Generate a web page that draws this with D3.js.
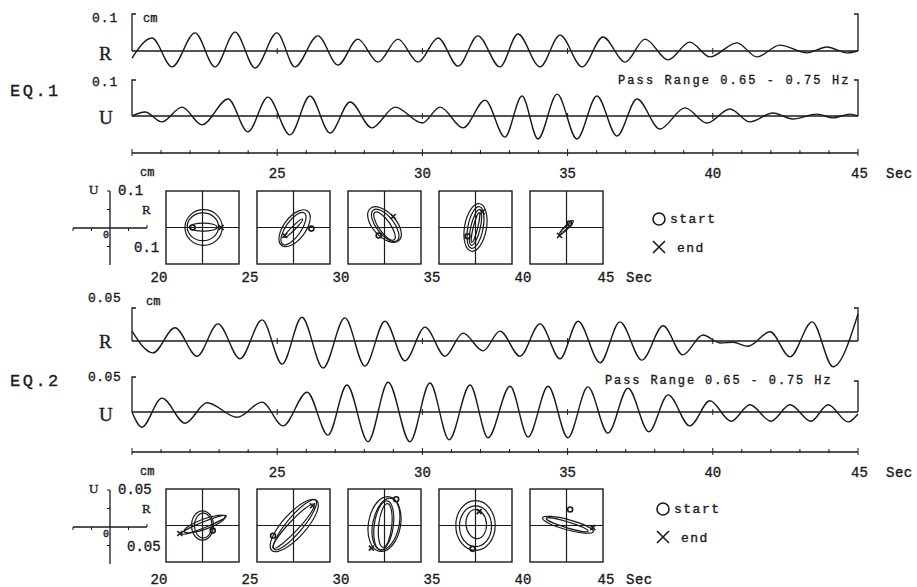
<!DOCTYPE html>
<html>
<head>
<meta charset="utf-8">
<script src="https://cdn.jsdelivr.net/npm/d3@7/dist/d3.min.js"></script>
<style>
body { margin: 0; background: #fff; }
text { font-family: "Liberation Mono", "DejaVu Sans Mono", monospace; fill: #1a1a1a; stroke: #1a1a1a; stroke-width: 0.35; }
.serif { font-family: "Liberation Serif", "DejaVu Serif", serif; }
</style>
</head>
<body>
<svg id="chart"></svg>
<script>
// band-passed traces: time (s) of each peak / trough and its value (cm)
var eq1RTime = [20.00, 20.69, 21.38, 22.17, 22.86, 23.55, 24.24, 24.99, 25.61, 26.40, 27.09, 27.78, 28.47, 29.16, 29.85, 30.54, 31.23, 31.91, 32.67, 33.29, 34.05, 34.74, 35.50, 36.22, 36.98, 37.67, 38.46, 39.21, 39.90, 40.83, 41.52, 42.31, 43.24, 43.93, 44.62, 45.00];
var eq1RVal = [-0.019, 0.035, -0.043, 0.049, -0.043, 0.051, -0.046, 0.049, -0.043, 0.041, -0.038, 0.032, -0.030, 0.032, -0.030, 0.035, -0.041, 0.041, -0.043, 0.046, -0.043, 0.043, -0.043, 0.038, -0.030, 0.032, -0.024, 0.024, -0.016, 0.022, -0.016, 0.016, -0.005, 0.011, -0.005, 0.000];

var eq1UTime = [20.00, 20.45, 21.03, 21.72, 22.41, 23.31, 23.99, 24.68, 25.44, 26.13, 26.82, 27.51, 28.26, 29.06, 29.99, 30.61, 31.40, 32.16, 32.84, 33.43, 33.98, 34.64, 35.32, 36.01, 36.70, 37.39, 38.18, 39.04, 39.80, 40.59, 41.28, 42.07, 42.76, 43.59, 44.14, 44.72, 45.00];
var eq1UVal = [0.000, 0.011, -0.016, 0.024, -0.024, 0.046, -0.043, 0.051, -0.051, 0.054, -0.046, 0.038, -0.032, 0.024, -0.019, 0.024, -0.032, 0.043, -0.057, 0.054, -0.062, 0.059, -0.062, 0.054, -0.054, 0.046, -0.035, 0.022, -0.019, 0.019, -0.016, 0.008, -0.008, 0.005, -0.005, 0.005, 0.000];

var eq2RTime = [20.00, 20.72, 21.48, 22.24, 22.96, 23.72, 24.48, 25.17, 25.85, 26.58, 27.33, 28.02, 28.71, 29.40, 30.09, 30.78, 31.40, 32.09, 32.67, 33.36, 34.05, 34.74, 35.36, 36.12, 36.80, 37.56, 38.29, 38.97, 39.66, 40.25, 40.70, 41.21, 41.97, 42.66, 43.42, 44.14, 45.00];
var eq2RVal = [0.015, -0.018, 0.020, -0.023, 0.026, -0.027, 0.032, -0.035, 0.036, -0.041, 0.035, -0.038, 0.030, -0.030, 0.021, -0.023, 0.012, -0.015, 0.015, -0.023, 0.026, -0.027, 0.030, -0.033, 0.029, -0.029, 0.023, -0.021, 0.009, -0.003, -0.002, -0.008, 0.014, -0.024, 0.029, -0.039, 0.041];

var eq2UTime = [20.00, 20.34, 21.03, 21.83, 22.58, 23.62, 24.48, 25.20, 26.03, 26.75, 27.40, 28.13, 28.82, 29.57, 30.26, 30.92, 31.64, 32.26, 33.02, 33.64, 34.33, 35.01, 35.70, 36.39, 37.08, 37.80, 38.46, 39.21, 39.90, 40.63, 41.28, 42.00, 42.66, 43.38, 43.97, 44.66, 45.00];
var eq2UVal = [0.000, -0.023, 0.021, -0.017, 0.014, -0.008, 0.015, -0.021, 0.030, -0.035, 0.041, -0.045, 0.045, -0.045, 0.044, -0.042, 0.041, -0.039, 0.039, -0.038, 0.039, -0.039, 0.038, -0.032, 0.036, -0.030, 0.026, -0.021, 0.017, -0.014, 0.011, -0.014, 0.011, -0.014, 0.011, -0.015, -0.003];

var timeLabels = [25, 30, 35, 40];
var orbitWindows = [20, 25, 30, 35, 40];

// particle orbits, one list per 5 s window: [semi-axis, semi-axis, tilt deg, R centre, U centre] in cm
var eq1Loops = [
  [[0.051, 0.049, 0, 0.003, 0], [0.043, 0.038, 0, 0.001, 0.002], [0.038, 0.011, 0, 0.002, 0.001]],
  [[0.059, 0.030, 53, 0.003, -0.002], [0.052, 0.021, 55, 0, -0.003], [0.035, 0.005, 45, 0, -0.002]],
  [[0.059, 0.032, -48, 0, 0.008], [0.053, 0.024, -52, 0.002, 0.006], [0.046, 0.016, -55, 0, 0.004]],
  [[0.066, 0.030, 80, 0, 0], [0.058, 0.021, 79, 0, 0], [0.050, 0.013, 77, 0, 0], [0.042, 0.006, 76, 0, 0]],
  [[0.026, 0.005, 45, 0, 0], [0.020, 0.003, 40, 0, 0]]
];
var eq1Start = [[-0.027, 0], [0.049, -0.003], [-0.016, -0.022], [-0.022, -0.024], [0.008, 0.011]];
var eq1End = [[0.051, 0], [-0.024, -0.022], [0.024, 0.030], [0.019, 0.043], [-0.019, -0.022]];

var eq2Loops = [
  [[0.015, 0.020, 0, 0, 0], [0.012, 0.017, 0, 0.001, 0], [0.033, 0.004, 22, 0.002, 0.001], [0.030, 0.007, 20, 0.003, 0.002]],
  [[0.046, 0.016, 48, 0.001, 0], [0.044, 0.011, 50, 0.002, 0.001], [0.041, 0.007, 47, 0, -0.001]],
  [[0.038, 0.022, 80, 0, 0.002], [0.036, 0.018, 78, 0.002, 0.002], [0.034, 0.013, 82, -0.001, 0], [0.030, 0.009, 84, 0.001, 0]],
  [[0.027, 0.034, 0, 0, 0], [0.022, 0.028, 0, 0, -0.001], [0.014, 0.020, 5, 0.001, 0.002]],
  [[0.036, 0.007, -15, 0.002, 0.001], [0.030, 0.004, -17, 0.001, 0.001]]
];
var eq2Start = [[0.014, -0.007], [-0.028, -0.014], [0.016, 0.036], [-0.004, -0.032], [0.005, 0.022]];
var eq2End = [[-0.031, -0.011], [0.026, 0.027], [-0.018, -0.031], [0.005, 0.019], [0.036, -0.003]];

var w = 917;
var h = 587;
var ink = "#1a1a1a";

var svg = d3.select("#chart")
            .attr("width", w)
            .attr("height", h);

var x = d3.scaleLinear().domain([20, 45]).range([132, 858]);
var orbitScale = d3.scaleLinear().domain([20, 45]).range([159, 614]);
var boxSize = 73;

function zip(ts, vs) {
  return ts.map(function(t, i){ return [t, vs[i]]; });
}

function drawTrace(base, pxPerCm, ts, vs) {
  var y = d3.scaleLinear().domain([0, 1]).range([base, base - pxPerCm]);
  // zero line
  svg.append("line")
     .attr("x1", x(20)).attr("x2", x(45))
     .attr("y1", base).attr("y2", base)
     .attr("stroke", ink).attr("stroke-width", 1.3);
  // little 5 s marks on the zero line
  svg.selectAll(null)
     .data(timeLabels)
     .enter()
     .append("line")
     .attr("x1", function(d){ return x(d); })
     .attr("x2", function(d){ return x(d); })
     .attr("y1", base - 3).attr("y2", base + 3)
     .attr("stroke", ink).attr("stroke-width", 1);
  var line = d3.line()
               .x(function(d){ return x(d[0]); })
               .y(function(d){ return y(d[1]); })
               .curve(d3.curveMonotoneX);
  svg.append("path")
     .attr("d", line(zip(ts, vs)))
     .attr("fill", "none")
     .attr("stroke", ink)
     .attr("stroke-width", 1.4);
}

// "[" scale bracket at the left and "]" at the right
function drawBrackets(base, leftTop, rightTop) {
  svg.append("path")
     .attr("d", "M" + (x(20) + 4) + "," + leftTop + "H" + x(20) + "V" + base)
     .attr("fill", "none").attr("stroke", ink).attr("stroke-width", 1.3);
  svg.append("path")
     .attr("d", "M" + (x(45) - 4) + "," + rightTop + "H" + x(45) + "V" + base)
     .attr("fill", "none").attr("stroke", ink).attr("stroke-width", 1.3);
}

function drawTimeAxis(ay, labelY) {
  svg.append("line")
     .attr("x1", x(20)).attr("x2", x(45))
     .attr("y1", ay).attr("y2", ay)
     .attr("stroke", ink).attr("stroke-width", 1.3);
  svg.selectAll(null)
     .data(d3.range(20, 46))
     .enter()
     .append("line")
     .attr("x1", function(d){ return x(d); })
     .attr("x2", function(d){ return x(d); })
     .attr("y1", function(d){ return d % 5 == 0 ? ay - 4 : ay - 3; })
     .attr("y2", function(d){ return d % 5 == 0 ? ay + 3 : ay + 1; })
     .attr("stroke", ink).attr("stroke-width", 1);
  svg.selectAll(null)
     .data(timeLabels)
     .enter()
     .append("text")
     .attr("x", function(d){ return x(d); })
     .attr("y", labelY)
     .attr("text-anchor", "middle")
     .attr("font-size", 14)
     .text(function(d){ return d; });
  svg.append("text").attr("x", x(45) - 7).attr("y", labelY)
     .attr("font-size", 14).text("45");
  svg.append("text").attr("x", x(45) + 28).attr("y", labelY)
     .attr("font-size", 14).attr("letter-spacing", 0.5).text("Sec");
  svg.append("text").attr("x", 140).attr("y", labelY - 2)
     .attr("font-size", 12).text("cm");
}

function drawOrbits(top, lim, loops, starts, ends, labelY) {
  orbitWindows.forEach(function(t0, i){
    var left = orbitScale(t0) + 7;
    var sx = d3.scaleLinear().domain([-lim, lim]).range([left, left + boxSize]);
    var sy = d3.scaleLinear().domain([-lim, lim]).range([top + boxSize, top]);
    var g = svg.append("g");
    g.append("rect")
     .attr("x", sx(-lim)).attr("y", sy(lim))
     .attr("width", boxSize).attr("height", boxSize)
     .attr("fill", "none").attr("stroke", ink).attr("stroke-width", 1.4);
    g.append("line")
     .attr("x1", sx(0)).attr("x2", sx(0)).attr("y1", sy(lim)).attr("y2", sy(-lim))
     .attr("stroke", ink).attr("stroke-width", 1.2);
    g.append("line")
     .attr("x1", sx(-lim)).attr("x2", sx(lim)).attr("y1", sy(0)).attr("y2", sy(0))
     .attr("stroke", ink).attr("stroke-width", 1.2);
    g.selectAll("ellipse")
     .data(loops[i])
     .enter()
     .append("ellipse")
     .attr("cx", function(d){ return sx(d[3]); })
     .attr("cy", function(d){ return sy(d[4]); })
     .attr("rx", function(d){ return sx(d[0]) - sx(0); })
     .attr("ry", function(d){ return sx(d[1]) - sx(0); })
     .attr("transform", function(d){ return "rotate(" + (-d[2]) + "," + sx(d[3]) + "," + sy(d[4]) + ")"; })
     .attr("fill", "none").attr("stroke", ink).attr("stroke-width", 1.2);
    var s = starts[i];
    g.append("circle")
     .attr("cx", sx(s[0])).attr("cy", sy(s[1])).attr("r", 2.5)
     .attr("fill", "none").attr("stroke", ink).attr("stroke-width", 1.6);
    var e = ends[i];
    g.append("path")
     .attr("d", "M" + (sx(e[0]) - 2.5) + "," + (sy(e[1]) - 2.5) + "l5,5m0,-5l-5,5")
     .attr("stroke", ink).attr("stroke-width", 1.6);
  });
  svg.selectAll(null)
     .data(orbitWindows)
     .enter()
     .append("text")
     .attr("x", function(d){ return orbitScale(d); })
     .attr("y", labelY)
     .attr("text-anchor", "middle")
     .attr("font-size", 14)
     .text(function(d){ return d; });
  svg.append("text").attr("x", orbitScale(45) - 8).attr("y", labelY)
     .attr("text-anchor", "middle").attr("font-size", 14).text("45");
  svg.append("text").attr("x", orbitScale(45) + 12).attr("y", labelY)
     .attr("font-size", 14).attr("letter-spacing", 0.5).text("Sec");
}

// small R-U reference axes left of the orbit boxes
function drawOrbitKey(cy, lim, label) {
  var kx = d3.scaleLinear().domain([-lim, lim]).range([73, 147]);
  var ky = d3.scaleLinear().domain([-lim, lim]).range([cy + 37, cy - 37]);
  svg.append("line").attr("x1", kx(0)).attr("x2", kx(0))
     .attr("y1", ky(lim)).attr("y2", ky(-lim))
     .attr("stroke", ink).attr("stroke-width", 1.3);
  svg.append("line").attr("x1", kx(-lim)).attr("x2", kx(lim))
     .attr("y1", ky(0)).attr("y2", ky(0))
     .attr("stroke", ink).attr("stroke-width", 1.3);
  [-lim, -lim / 2, lim / 2].forEach(function(v){
    svg.append("line").attr("x1", kx(v)).attr("x2", kx(v))
       .attr("y1", ky(0)).attr("y2", ky(0) + 3)
       .attr("stroke", ink).attr("stroke-width", 1);
  });
  svg.append("line").attr("x1", kx(lim)).attr("x2", kx(lim))
     .attr("y1", ky(0)).attr("y2", ky(0) - 3)
     .attr("stroke", ink).attr("stroke-width", 1);
  [lim, lim / 2, -lim / 2].forEach(function(v){
    svg.append("line").attr("x1", kx(0) - 3).attr("x2", kx(0))
       .attr("y1", ky(v)).attr("y2", ky(v))
       .attr("stroke", ink).attr("stroke-width", 1);
  });
  svg.append("text").attr("class", "serif").attr("x", 89).attr("y", ky(lim) + 3).attr("font-size", 13).text("U");
  svg.append("text").attr("x", 118).attr("y", ky(lim) + 4).attr("font-size", 14).text(label);
  svg.append("text").attr("class", "serif").attr("x", 142).attr("y", ky(lim / 2) + 4)
     .attr("font-size", 13).text("R");
  svg.append("text").attr("x", 103).attr("y", ky(0) + 10).attr("font-size", 10).text("0");
  svg.append("text").attr("x", label.length > 3 ? 127 : 134).attr("y", ky(-lim / 2) + 5)
     .attr("font-size", 14).text(label);
}

function drawLegend(cx, cy) {
  svg.append("circle").attr("cx", cx).attr("cy", cy).attr("r", 6)
     .attr("fill", "none").attr("stroke", ink).attr("stroke-width", 1.6);
  svg.append("text").attr("x", cx + 11).attr("y", cy + 4)
     .attr("font-size", 13).attr("letter-spacing", 1.5).text("start");
  svg.append("path")
     .attr("d", "M" + (cx - 6) + "," + (cy + 22) + "l12,12m0,-12l-12,12")
     .attr("stroke", ink).attr("stroke-width", 1.6);
  svg.append("text").attr("x", cx + 18).attr("y", cy + 33)
     .attr("font-size", 13).attr("letter-spacing", 1.5).text("end");
}

function label(tx, ty, size, txt, cls, spacing) {
  svg.append("text").attr("x", tx).attr("y", ty)
     .attr("font-size", size)
     .attr("class", cls || null)
     .attr("letter-spacing", spacing || 0)
     .text(txt);
}

// ---- EQ.1 ----
drawTrace(51, 370, eq1RTime, eq1RVal);
drawTrace(116, 370, eq1UTime, eq1UVal);
drawBrackets(51, 14, 14);
drawBrackets(116, 80, 80);
label(10, 96, 17, "EQ.1", null, 2.5);
label(92, 22, 13, "0.1", null, 1);
label(143, 22, 12, "cm");
label(99, 60, 19, "R", "serif");
label(92, 86, 13, "0.1", null, 1);
label(99, 124, 19, "U", "serif");
label(618, 84, 12, "Pass Range 0.65 - 0.75 Hz", null, 2.1);
drawTimeAxis(153, 178);
drawOrbitKey(228, 0.1, "0.1");
drawOrbits(191, 0.1, eq1Loops, eq1Start, eq1End, 282);
drawLegend(659, 219);

// ---- EQ.2 ----
drawTrace(341, 660, eq2RTime, eq2RVal);
drawTrace(412, 660, eq2UTime, eq2UVal);
drawBrackets(341, 308, 308);
drawBrackets(412, 377, 381);
label(10, 386, 17, "EQ.2", null, 2.5);
label(88, 302, 13, "0.05", null, 0.5);
label(146, 305, 12, "cm");
label(99, 348, 19, "R", "serif");
label(88, 381, 13, "0.05", null, 0.5);
label(99, 421, 19, "U", "serif");
label(605, 384, 12, "Pass Range 0.65 - 0.75 Hz", null, 1.9);
drawTimeAxis(452, 477);
drawOrbitKey(527, 0.05, "0.05");
drawOrbits(489, 0.05, eq2Loops, eq2Start, eq2End, 584);
drawLegend(663, 509);
</script>
</body>
</html>
